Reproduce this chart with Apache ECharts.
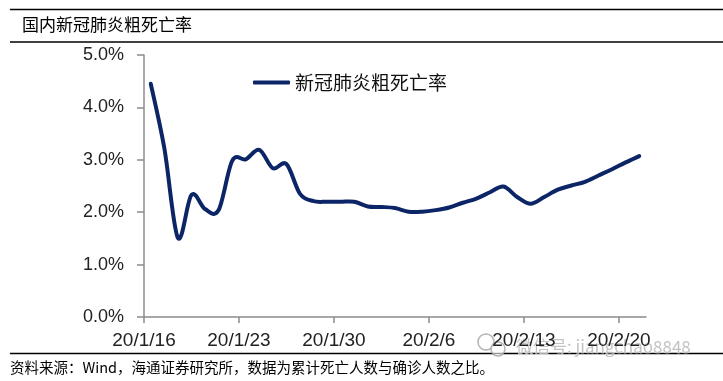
<!DOCTYPE html>
<html><head><meta charset="utf-8">
<script src="https://cdn.jsdelivr.net/npm/echarts@6/dist/echarts.min.js"></script>
<style>html,body{margin:0;padding:0;background:#fff}#c{width:723px;height:381px}</style>
</head><body><div id="c"></div>
<script>
const titleText = '国内新冠肺炎粗死亡率';
const seriesName = '新冠肺炎粗死亡率';
const sourceText = '资料来源：Wind，海通证券研究所，数据为累计死亡人数与确诊人数之比。';
const dates = ['20/1/16','20/1/17','20/1/18','20/1/19','20/1/20','20/1/21','20/1/22','20/1/23','20/1/24','20/1/25',
  '20/1/26','20/1/27','20/1/28','20/1/29','20/1/30','20/1/31','20/2/1','20/2/2','20/2/3','20/2/4',
  '20/2/5','20/2/6','20/2/7','20/2/8','20/2/9','20/2/10','20/2/11','20/2/12','20/2/13','20/2/14',
  '20/2/15','20/2/16','20/2/17','20/2/18','20/2/19','20/2/20','20/2/21'];
const deathRate = [4.45,3.22,1.51,2.33,2.06,2.04,2.98,3.01,3.19,2.84,
  2.92,2.35,2.21,2.20,2.20,2.20,2.11,2.10,2.08,2.01,
  2.01,2.04,2.09,2.18,2.26,2.38,2.49,2.29,2.16,2.29,
  2.43,2.51,2.58,2.70,2.82,2.95,3.07];
const labelIdx = [0,7,14,21,28,35];
const yTicks = [0,1,2,3,4,5];

const lineColor = '#0b2566';
const gray = '#8c8c8c';

// Smoothed (Catmull-Rom style, like the spreadsheet's smoothed line) path through points placed by the axes
function renderSmooth(params, api) {
  if (params.dataIndex !== 0) return null;
  const pts = dates.map((d, i) => api.coord([i, deathRate[i]]));
  let d = 'M' + pts[0][0] + ' ' + pts[0][1];
  for (let i = 0; i < pts.length - 1; i++) {
    const p0 = pts[Math.max(i - 1, 0)], p1 = pts[i], p2 = pts[i + 1], p3 = pts[Math.min(i + 2, pts.length - 1)];
    const c1x = p1[0] + (p2[0] - p0[0]) / 6, c1y = p1[1] + (p2[1] - p0[1]) / 6;
    const c2x = p2[0] - (p3[0] - p1[0]) / 6, c2y = p2[1] - (p3[1] - p1[1]) / 6;
    d += ' C' + c1x + ' ' + c1y + ' ' + c2x + ' ' + c2y + ' ' + p2[0] + ' ' + p2[1];
  }
  return {type:'path', shape:{pathData:d}, style:{fill:'none', stroke:lineColor, lineWidth:4, lineJoin:'round', lineCap:'round'}};
}

const chart = echarts.init(document.getElementById('c'));
chart.setOption({
  animation:false,
  backgroundColor:'#fff',
  grid:{left:144,right:77,top:55,bottom:64},
  legend:{show:true,left:248,top:68,icon:'roundRect',itemWidth:37,itemHeight:4,itemGap:4,
    textStyle:{fontFamily:'Noto Sans CJK SC',fontSize:19,color:'#111'},
    data:[seriesName]},
  xAxis:[
    {type:'category',data:dates,boundaryGap:true,show:false},
    {type:'value',min:0,max:dates.length,position:'bottom',
      axisLine:{show:true,lineStyle:{color:gray,width:1.5}},
      axisTick:{show:true,length:6,customValues:labelIdx,lineStyle:{color:gray,width:1.5}},
      axisLabel:{customValues:labelIdx,margin:14,fontFamily:'Liberation Sans',fontSize:19,color:'#222',
        formatter:v=>dates[v]},
      splitLine:{show:false}}
  ],
  yAxis:{type:'value',min:yTicks[0],max:yTicks[yTicks.length-1],interval:1,
    axisLine:{show:true,lineStyle:{color:gray,width:1.5}},
    axisTick:{show:true,length:7,lineStyle:{color:gray,width:1.5}},
    axisLabel:{margin:20,fontFamily:'Liberation Sans',fontSize:18,color:'#222',formatter:v=>v.toFixed(1)+'%'},
    splitLine:{show:false}},
  series:[{name:seriesName,type:'custom',xAxisIndex:0,clip:false,
    data:deathRate.map((v,i)=>[i,v]),encode:{x:0,y:1},
    renderItem:renderSmooth,itemStyle:{color:lineColor}}],
  graphic:[
    {type:'line',shape:{x1:10,y1:9.5,x2:723,y2:9.5},style:{stroke:'#000',lineWidth:1.5}},
    {type:'line',shape:{x1:10,y1:42,x2:723,y2:42},style:{stroke:'#000',lineWidth:1.5}},
    {type:'line',shape:{x1:10,y1:353.5,x2:723,y2:353.5},style:{stroke:'#000',lineWidth:1.5}},
    {type:'text',x:22,y:25,style:{text:titleText,font:'17px "Noto Sans CJK SC"',fill:'#000',textVerticalAlign:'middle'}},
    {type:'text',x:10,y:367,style:{text:sourceText,font:'14.5px "Noto Sans CJK SC"',fill:'#000',textVerticalAlign:'middle'}},
    {type:'circle',shape:{cx:486,cy:342,r:8},style:{fill:'none',stroke:'rgba(160,160,160,0.8)',lineWidth:1.5}},
    {type:'circle',shape:{cx:498,cy:349,r:7},style:{fill:'rgba(255,255,255,0.6)',stroke:'rgba(160,160,160,0.8)',lineWidth:1.5}},
    {type:'text',x:516,y:347,style:{text:'微信号: jiangchao8848',font:'17px "Noto Sans CJK SC"',fill:'rgba(175,175,175,0.75)',stroke:'rgba(255,255,255,0.6)',lineWidth:1,textVerticalAlign:'middle'}}
  ]
});
</script></body></html>
